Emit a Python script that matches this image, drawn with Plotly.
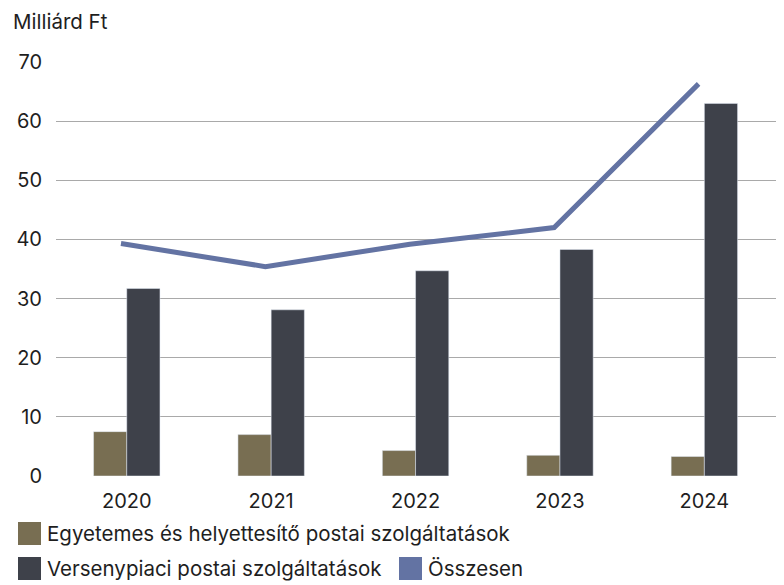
import plotly.graph_objects as go

years = ["2020", "2021", "2022", "2023", "2024"]
egyetemes = [7.5, 7.0, 4.3, 3.5, 3.3]
versenypiaci = [31.7, 28.1, 34.7, 38.3, 63.0]
osszesen = [39.3, 35.4, 39.2, 42.0, 66.3]
y_ticks = [0, 10, 20, 30, 40, 50, 60, 70]

name_e = "Egyetemes és helyettesítő postai szolgáltatások"
name_v = "Versenypiaci postai szolgáltatások"
name_o = "Összesen"

C_E = "#786e52"
C_V = "#3e414a"
C_O = "#6373a3"
FONT = "Inter"
TXT = "#1e1e1e"

# page has an 8px body margin; figure is sized to fill the rest
OFF = 8
PAGE_W, PAGE_H = 784, 585
W, H = PAGE_W - OFF, PAGE_H - OFF
PL, PR, PT, PB = 56, 778, 62, 476   # plot area in page pixels
L, R, T, B = PL - OFF, PAGE_W - PR, PT - OFF, PAGE_H - PB
PW, PH = PR - PL, PB - PT

def px(x):
    return (x - PL) / PW

def py(y):
    return (PB - y) / PH

fig = go.Figure()
fig.add_trace(go.Bar(x=years, y=egyetemes, name=name_e, marker_color=C_E, showlegend=False))
fig.add_trace(go.Bar(x=years, y=versenypiaci, name=name_v, marker_color=C_V, showlegend=False))
fig.add_trace(go.Scatter(x=years, y=osszesen, name=name_o, mode="lines", xaxis="x2",
                         line=dict(color=C_O, width=5), showlegend=False))

fig.update_layout(
    width=W, height=H,
    margin=dict(l=L, r=R, t=T, b=B),
    paper_bgcolor="white", plot_bgcolor="white",
    barmode="group", bargap=0.54, bargroupgap=0,
    font=dict(family=FONT, size=20, color=TXT),
    xaxis=dict(type="category", range=[-0.49, 4.51], showgrid=False, zeroline=False,
               showline=False, ticks="", tickfont=dict(size=20, color=TXT),
               ticklabelstandoff=11),
    xaxis2=dict(type="category", overlaying="x", range=[-0.45, 4.55], visible=False),
    yaxis=dict(range=[0, 70], tickvals=y_ticks, showgrid=True, gridcolor="#a9a9a9",
               gridwidth=1.2, zeroline=False, showline=False, ticks="",
               tickfont=dict(size=20, color=TXT), ticklabelstandoff=13),
)

# y-axis unit label
fig.add_annotation(text="Milliárd Ft", xref="paper", yref="paper", x=px(11), y=py(21),
                   xanchor="left", yanchor="middle", showarrow=False,
                   font=dict(size=20.5, color=TXT, family=FONT))

# legend drawn as squares + text
legend_items = [
    (name_e, C_E, 18, 533.5),
    (name_v, C_V, 18, 568.5),
    (name_o, C_O, 399, 568.5),
]
for text, col, x0, yc in legend_items:
    fig.add_shape(type="rect", xref="paper", yref="paper",
                  x0=px(x0), x1=px(x0 + 23), y0=py(yc - 11.5), y1=py(yc + 11.5),
                  fillcolor=col, line=dict(width=0))
    fig.add_annotation(text=text, xref="paper", yref="paper", x=px(x0 + 27), y=py(yc),
                       xanchor="left", yanchor="middle", showarrow=False,
                       font=dict(size=20.5, color=TXT, family=FONT))

fig.write_html("out.html")
